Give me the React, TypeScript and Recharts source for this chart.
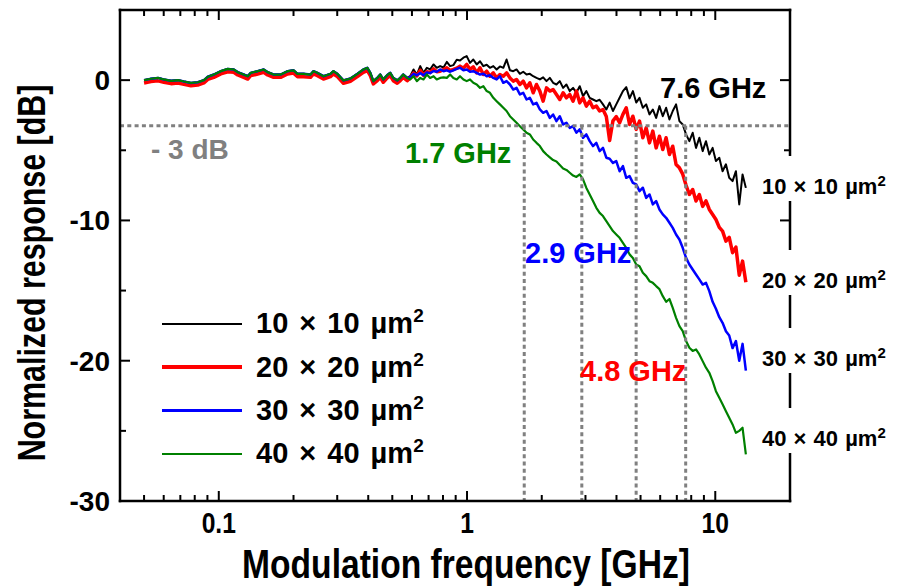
import React from 'react';
import { LineChart, Line, XAxis, YAxis, ReferenceLine, Legend } from 'recharts';

const FONT = '"Liberation Sans", Arial, Helvetica, sans-serif';

// ---- data (frequency in GHz, response in dB) ----
const FREQ_LOW = [0.05, 0.0533, 0.0569, 0.0601, 0.0642, 0.0685, 0.0724, 0.0772, 0.0823, 0.0871,
  0.0903, 0.0955, 0.1019, 0.1087, 0.1149, 0.1192, 0.126, 0.1308, 0.1344, 0.1434,
  0.1516, 0.1573, 0.1663, 0.1774, 0.1893, 0.2001, 0.2076, 0.2195, 0.2342, 0.2407,
  0.2497, 0.264, 0.2817, 0.2896, 0.3004, 0.3177, 0.339, 0.3617, 0.3823, 0.3967,
  0.4078, 0.4193, 0.435, 0.4472, 0.4598, 0.4772, 0.4906, 0.5044, 0.5234, 0.5382,
  0.5534, 0.5742];

// shared low-frequency response of the 10, 30 and 40 um devices
const BASE_LOW = [0.0, 0.1, 0.16, 0.05, -0.05, 0.0, -0.1, -0.2, -0.15, 0.0,
  0.24, 0.4, 0.64, 0.8, 0.76, 0.57, 0.4, 0.28, 0.52, 0.64,
  0.76, 0.57, 0.4, 0.4, 0.64, 0.7, 0.45, 0.45, 0.4, 0.64,
  0.52, 0.28, 0.45, 0.64, 0.45, -0.02, 0.12, 0.45, 0.76, 0.88,
  0.52, -0.07, 0.16, 0.4, 0.05, 0.36, 0.52, 0.16, -0.02, 0.16,
  0.4, 0.16];

const RED_LOW = [-0.2, -0.1, -0.05, -0.15, -0.25, -0.2, -0.3, -0.4, -0.35, -0.2,
  0.05, 0.2, 0.45, 0.6, 0.56, 0.37, 0.2, 0.08, 0.32, 0.44,
  0.56, 0.37, 0.2, 0.2, 0.44, 0.5, 0.25, 0.25, 0.2, 0.44,
  0.32, 0.08, 0.25, 0.44, 0.25, -0.22, -0.08, 0.25, 0.56, 0.68,
  0.32, -0.27, -0.04, 0.2, -0.15, 0.16, 0.32, -0.04, -0.22, -0.04,
  0.2, -0.04];

const FREQ_HIGH = [0.590, 0.609, 0.628, 0.648, 0.668, 0.689, 0.710, 0.733, 0.755, 0.779,
  0.804, 0.829, 0.855, 0.881, 0.909, 0.937, 0.967, 0.997, 1.028, 1.060,
  1.094, 1.128, 1.163, 1.200, 1.237, 1.276, 1.316, 1.357, 1.400, 1.443,
  1.489, 1.535, 1.583, 1.633, 1.684, 1.737, 1.791, 1.847, 1.905, 1.965,
  2.026, 2.090, 2.155, 2.222, 2.292, 2.364, 2.438, 2.514, 2.593, 2.674,
  2.758, 2.844, 2.933, 3.025, 3.120, 3.217, 3.318, 3.421, 3.529, 3.640,
  3.754, 3.871, 3.992, 4.117, 4.246, 4.379, 4.516, 4.657, 4.803, 4.953,
  5.108, 5.268, 5.433, 5.603, 5.778, 5.959, 6.146, 6.338, 6.537, 6.741,
  6.952, 7.170, 7.394, 7.626, 7.864, 8.110, 8.364, 8.626, 8.896, 9.175,
  9.462, 9.758, 10.06, 10.38, 10.70, 11.04, 11.38, 11.74, 12.11, 12.49,
  12.88, 13.28];

const BLACK_HIGH = [0.28, 0.76, 0.4, 1.0, 0.52, 0.88, 0.76, 1.12, 0.88, 1.0,
  0.9, 1.3, 1.0, 1.07, 1.45, 1.4, 1.6, 1.71, 1.23, 1.47,
  1.12, 1.35, 1.0, 1.1, 0.88, 1.0, 0.76, 0.98, 0.88, 1.47,
  0.7, 0.64, 0.76, 0.45, 0.6, 0.4, 0.45, 0.28, 0.16, 0.05,
  0.2, -0.07, 0.16, -0.19, -0.31, -0.07, -0.55, -0.31, -0.78, -0.55,
  -0.9, -0.43, -1.14, -0.78, -1.26, -1.38, -1.5, -1.4, -1.73, -2.09,
  -1.6, -2.2, -1.73, -1.26, -0.78, -0.5, -1.3, -0.78, -1.6, -1.26,
  -1.97, -1.73, -2.44, -2.09, -2.69, -1.85, -2.57, -1.97, -2.8, -2.2,
  -1.73, -2.92, -3.16, -3.87, -4.35, -3.75, -4.83, -4.11, -5.06, -4.35,
  -5.3, -4.83, -5.77, -5.53, -6.49, -6.0, -6.96, -7.2, -6.49, -8.86,
  -6.72, -7.68];

const RED_HIGH = [0.16, 0.5, 0.3, 0.7, 0.35, 0.6, 0.55, 0.8, 0.6, 0.64,
  0.75, 0.88, 0.7, 0.76, 0.85, 1.0, 0.85, 1.12, 0.76, 0.95,
  0.52, 0.88, 0.4, 0.64, 0.28, 0.52, 0.16, 0.4, 0.28, 0.52,
  0.16, -0.07, 0.05, -0.31, -0.07, -0.55, -0.19, -0.9, -0.31, -0.78,
  -1.5, -0.55, -0.78, -0.67, -1.02, -1.38, -0.9, -1.26, -1.02, -1.5,
  -0.78, -1.62, -1.26, -1.85, -1.5, -1.97, -1.85, -2.2, -2.1, -2.6,
  -4.3, -2.9, -2.6, -3.04, -2.44, -1.97, -3.16, -2.57, -3.51, -2.92,
  -4.11, -3.4, -4.47, -3.63, -4.83, -4.0, -4.95, -4.11, -5.3, -4.71,
  -6.01, -6.25, -6.7, -7.5, -8.15, -7.8, -8.62, -8.15, -9.0, -8.6,
  -9.22, -9.57, -9.93, -10.5, -10.76, -11.48, -11.2, -12.3, -11.9, -13.9,
  -12.9, -14.4];

const BLUE_HIGH = [0.2, 0.45, 0.35, 0.5, 0.35, 0.55, 0.5, 0.65, 0.6, 0.76,
  0.64, 0.7, 0.6, 0.7, 0.8, 0.88, 0.7, 0.76, 0.6, 0.64,
  0.52, 0.4, 0.45, 0.28, 0.35, 0.16, 0.05, 0.28, -0.19, -0.07,
  -0.31, -0.67, -0.55, -1.02, -0.9, -1.38, -1.26, -1.73, -1.62, -2.09,
  -2.33, -2.2, -2.69, -2.45, -2.92, -2.57, -3.16, -3.04, -3.4, -3.28,
  -3.75, -3.5, -4.11, -3.87, -4.35, -4.7, -4.47, -5.06, -4.83, -5.53,
  -5.6, -5.9, -5.77, -6.49, -6.13, -6.96, -6.84, -7.32, -7.43, -7.91,
  -7.67, -8.39, -8.15, -8.86, -8.62, -9.22, -9.57, -9.81, -10.17, -10.53,
  -11.0, -11.36, -11.95, -12.67, -13.14, -13.5, -13.85, -14.2, -14.57, -14.45,
  -15.04, -15.8, -16.3, -16.9, -17.3, -17.9, -18.2, -19.1, -18.6, -20.0,
  -18.8, -20.7];

const GREEN_HIGH = [0.05, 0.28, -0.07, 0.16, 0.05, 0.4, 0.16, 0.28, 0.05, 0.16,
  0.2, 0.16, 0.4, 0.16, 0.05, 0.28, 0.05, -0.07, 0.05, -0.19,
  -0.31, -0.55, -0.43, -0.78, -0.9, -1.26, -1.5, -1.73, -1.97, -2.2,
  -2.57, -2.8, -3.04, -3.28, -3.51, -3.75, -3.87, -4.23, -4.47, -4.7,
  -5.06, -5.3, -5.5, -5.7, -5.8, -6.05, -6.3, -6.4, -6.6, -6.8,
  -6.9, -6.72, -7.08, -7.68, -8.15, -8.62, -9.1, -9.46, -9.69, -10.05,
  -10.4, -10.76, -11.0, -11.24, -11.6, -11.95, -12.42, -12.67, -13.14, -13.26,
  -13.73, -13.97, -14.33, -14.45, -14.68, -14.9, -15.4, -15.8, -15.6, -16.23,
  -16.94, -17.53, -17.89, -18.6, -19.08, -19.3, -19.2, -19.55, -20.03, -20.5,
  -20.86, -21.45, -22.17, -22.64, -23.1, -23.6, -24.07, -24.54, -25.14, -25.0,
  -24.78, -26.68];

const SERIES = [
  { key: 's10', size: '10 × 10 µm', color: '#000000', width: 2 },
  { key: 's20', size: '20 × 20 µm', color: '#ff0000', width: 3.5 },
  { key: 's30', size: '30 × 30 µm', color: '#0000ff', width: 2.5 },
  { key: 's40', size: '40 × 40 µm', color: '#008000', width: 2.2 },
];

const X_TICKS = [0.05, 0.06, 0.07, 0.08, 0.09, 0.1, 0.2, 0.3, 0.4, 0.5, 0.6, 0.7, 0.8, 0.9,
  1, 2, 3, 4, 5, 6, 7, 8, 9, 10];
const X_LABELED = [0.1, 1, 10];
const Y_TICKS = [5, 0, -5, -10, -15, -20, -25, -30];
const Y_LABELED = [0, -10, -20, -30];
const MINUS_3DB = -3.25;
const CUTOFFS = [
  { f: 1.7, label: '1.7 GHz', color: '#008000' },
  { f: 2.9, label: '2.9 GHz', color: '#0000ff' },
  { f: 4.8, label: '4.8 GHz', color: '#ff0000' },
  { f: 7.6, label: '7.6 GHz', color: '#000000' },
];

const data = [
  ...FREQ_LOW.map((f, i) => ({ f, s10: BASE_LOW[i], s20: RED_LOW[i], s30: BASE_LOW[i], s40: BASE_LOW[i] })),
  ...FREQ_HIGH.map((f, i) => ({ f, s10: BLACK_HIGH[i], s20: RED_HIGH[i], s30: BLUE_HIGH[i], s40: GREEN_HIGH[i] })),
];

const near = (arr: number[], v: number) => arr.some((m) => Math.abs(m - v) < 1e-9);
const AX = '#000';
const AXW = 2.5;

const BottomTick = (p: any) => {
  const { x, y, payload } = p;
  const v = payload.value;
  const major = near(X_LABELED, v);
  return (
    <g>
      <line x1={x} x2={x} y1={y} y2={y - (major ? 10 : 6)} stroke={AX} strokeWidth={2} />
      {major && (
        <text transform={`translate(${x},${y + 32}) scale(0.85,1)`} textAnchor="middle"
          fontFamily={FONT} fontWeight="bold" fontSize={29} fill="#000">{String(v)}</text>
      )}
    </g>
  );
};
const TopTick = (p: any) => {
  const { x, y, payload } = p;
  const major = near(X_LABELED, payload.value);
  return <line x1={x} x2={x} y1={y} y2={y + (major ? 10 : 6)} stroke={AX} strokeWidth={2} />;
};
const LeftTick = (p: any) => {
  const { x, y, payload } = p;
  const v = payload.value;
  const major = near(Y_LABELED, v);
  return (
    <g>
      <line x1={x} x2={x + (major ? 10 : 6)} y1={y} y2={y} stroke={AX} strokeWidth={2} />
      {major && (
        <text x={x - 10} y={y + 10} textAnchor="end" fontFamily={FONT} fontWeight="bold"
          fontSize={28} fill="#000">{String(v)}</text>
      )}
    </g>
  );
};
const RightTick = (p: any) => {
  const { x, y, payload } = p;
  const major = near(Y_LABELED, payload.value);
  return <line x1={x} x2={x - (major ? 10 : 6)} y1={y} y2={y} stroke={AX} strokeWidth={2} />;
};

const LegendBox = () => (
  <div style={{ fontFamily: FONT }}>
    {SERIES.map((s) => (
      <div key={s.key} style={{ height: 43.4, display: 'flex', alignItems: 'center' }}>
        <div style={{ width: 80, height: s.width, background: s.color, marginRight: 14 }} />
        <span style={{ fontSize: 29, fontWeight: 'bold', color: '#000', whiteSpace: 'nowrap', wordSpacing: 3 }}>
          {s.size}<sup style={{ fontSize: 19, verticalAlign: 11, lineHeight: 0 }}>2</sup>
        </span>
      </div>
    ))}
  </div>
);

const RIGHT_LABEL_Y = [186, 280, 358, 438];
const ANNOT = [
  { text: '7.6 GHz', x: 660, y: 98, color: '#000000' },
  { text: '1.7 GHz', x: 405, y: 163, color: '#008000' },
  { text: '2.9 GHz', x: 525, y: 263, color: '#0000ff' },
  { text: '4.8 GHz', x: 580, y: 381, color: '#ff0000' },
];

export default function App() {
  return (
    <div style={{ position: 'absolute', left: 0, top: 0, width: 897, height: 588, background: '#fff' }}>
      <LineChart width={897} height={588} data={data} margin={{ top: 9, right: 106, bottom: 0, left: 0 }}>
        <XAxis dataKey="f" type="number" scale="log" domain={[0.04, 20]} allowDataOverflow
          ticks={X_TICKS} interval={0} height={87} tickSize={0} tickMargin={0} tickLine={false}
          axisLine={{ stroke: AX, strokeWidth: AXW, strokeLinecap: 'square' }} tick={<BottomTick />} />
        <XAxis xAxisId="top" orientation="top" dataKey="f" type="number" scale="log" domain={[0.04, 20]}
          allowDataOverflow ticks={X_TICKS} interval={0} height={1} tickSize={0} tickMargin={0}
          tickLine={false} axisLine={{ stroke: AX, strokeWidth: AXW, strokeLinecap: 'square' }} tick={<TopTick />} />
        <YAxis type="number" domain={[-30, 5]} allowDataOverflow ticks={Y_TICKS} interval={0} width={120}
          tickSize={0} tickMargin={0} tickLine={false}
          axisLine={{ stroke: AX, strokeWidth: AXW, strokeLinecap: 'square' }} tick={<LeftTick />} />
        <YAxis yAxisId="r" orientation="right" type="number" domain={[-30, 5]} allowDataOverflow ticks={Y_TICKS}
          interval={0} width={1} tickSize={0} tickMargin={0} tickLine={false}
          axisLine={{ stroke: AX, strokeWidth: AXW, strokeLinecap: 'square' }} tick={<RightTick />} />
        {/* invisible series bound to the mirrored top/right frame axes */}
        <Line dataKey="s10" xAxisId="top" yAxisId="r" stroke="none" strokeWidth={0} dot={false}
          activeDot={false} legendType="none" isAnimationActive={false} />
        {SERIES.map((s) => (
          <Line key={s.key} dataKey={s.key} name={`${s.size}²`} stroke={s.color} strokeWidth={s.width}
            dot={false} activeDot={false} type="linear" isAnimationActive={false} strokeLinejoin="round" />
        ))}
        <ReferenceLine y={MINUS_3DB} stroke="#808080" strokeWidth={3} strokeDasharray="4 3.3" />
        {CUTOFFS.map((c) => (
          <ReferenceLine key={c.f} segment={[{ x: c.f, y: MINUS_3DB }, { x: c.f, y: -30 }]}
            stroke="#808080" strokeWidth={3} strokeDasharray="4 3.3" />
        ))}
        <Legend layout="horizontal" verticalAlign="middle" align="center"
          wrapperStyle={{ left: 162, top: 302, width: 320, height: 180 }} content={<LegendBox />} />
      </LineChart>
      <svg width={897} height={588} style={{ position: 'absolute', left: 0, top: 0, pointerEvents: 'none' }}>
        <text transform="translate(466,578) scale(0.84,1)" textAnchor="middle" fontFamily={FONT} fontWeight="bold"
          fontSize={40} fill="#000">Modulation frequency [GHz]</text>
        <text transform="translate(45,273) rotate(-90) scale(0.8,1)" textAnchor="middle" fontFamily={FONT}
          fontWeight="bold" fontSize={38} fill="#000">Normalized response [dB]</text>
        <text x={151} y={159} fontFamily={FONT} fontWeight="bold" fontSize={28} fill="#808080">- 3 dB</text>
        {ANNOT.map((a) => (
          <text key={a.text} x={a.x} y={a.y} fontFamily={FONT} fontWeight="bold" fontSize={29} fill={a.color}>{a.text}</text>
        ))}
        {SERIES.map((s, i) => (
          <g key={s.key}>
            <rect x={757} y={RIGHT_LABEL_Y[i] - 30} width={136} height={45} fill="#fff" />
            <text x={762} y={RIGHT_LABEL_Y[i] + 8} fontFamily={FONT} fontWeight="bold" fontSize={22} fill="#000"
              wordSpacing={1}>
              {s.size}<tspan fontSize={15} dy={-8}>2</tspan>
            </text>
          </g>
        ))}
      </svg>
    </div>
  );
}
